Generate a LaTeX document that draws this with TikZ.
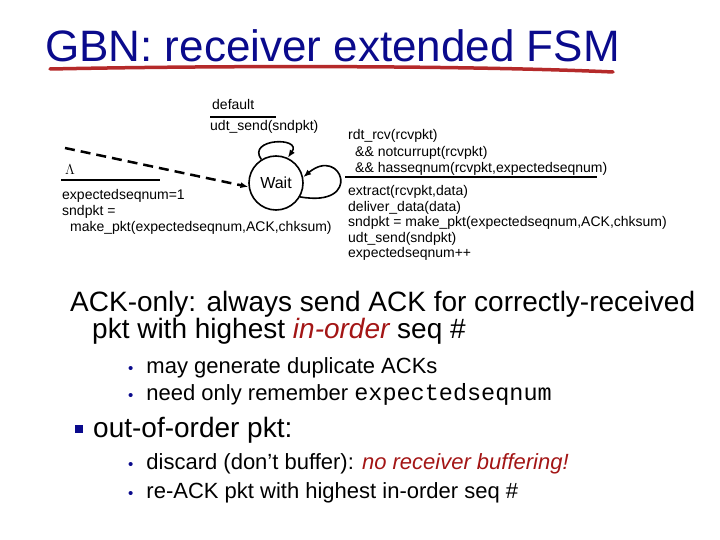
\documentclass[tikz,border=0pt]{standalone}
\usepackage{fontspec}
\setmainfont{Liberation Sans}
\setmonofont{Liberation Mono}
\usetikzlibrary{arrows.meta}
\definecolor{navyTitle}{HTML}{0A0A8C}
\definecolor{redStroke}{HTML}{B52A2A}
\definecolor{redText}{HTML}{A31515}
\newcommand{\subDot}{{\color{navyTitle}\fontsize{15}{15}\selectfont\textbullet}\hspace{13pt}}
\newcommand{\sqDot}{{\color{navyTitle}\raisebox{4pt}{\rule{8pt}{8pt}}}\hspace{10pt}}
\tikzset{
  fsmtext/.style={font=\fontsize{14}{15.6}\selectfont,inner sep=0pt,align=left,anchor=base west},
  bigtext/.style={font=\fontsize{28}{27}\selectfont,inner sep=0pt,align=left,anchor=base west},
  subtext/.style={font=\fontsize{22}{22}\selectfont,inner sep=0pt,align=left,anchor=base west},
  fsmline/.style={line width=1.6pt}
}

\begin{document}
\begin{tikzpicture}[x=1pt,y=-1pt,>={Latex[length=8pt,width=6pt]}]
    \useasboundingbox (0,0) rectangle (720,540);
    % title
    \node[anchor=base west,inner sep=0pt,text=navyTitle,font=\fontsize{44}{44}\selectfont] (title) at (45,62) {GBN: receiver extended FSM};
    \draw[redStroke,line width=3.5pt,line cap=round] (50,69) .. controls (250,65) and (480,66) .. (613,72);
    % receiver FSM (y points down, so polar angles are mirrored)
    \node[draw,circle,fsmline,minimum size=54pt,inner sep=0pt,font=\fontsize{16}{16}\selectfont] (wait) at (276,183) {Wait};
    \coordinate (init) at (65,148);
    \draw[->,line width=2.5pt,dash pattern=on 10pt off 6pt] (init) -- (wait.188);
    \draw[->,fsmline] (wait.122) .. controls +(-125:26) and +(-55:26) .. (wait.65);
    \draw[->,fsmline] (wait.-30) .. controls +(10:65) and +(-40:50) .. (wait.12);
    \node[fsmtext] (dflt) at (212,110) {default};
    \draw[line width=2pt] (210,117) -- (276,117);
    \node[fsmtext] (dfltact) at (210,131) {udt\_send(sndpkt)};
    \node[fsmtext] (lam) at (65,175) {$\Lambda$};
    \draw[line width=2pt] (61,180) -- (160,180);
    \node[fsmtext] (initact) at (62,231) {expectedseqnum=1\\sndpkt =\\\hspace*{8pt}make\_pkt(expectedseqnum,ACK,chksum)};
    \node[fsmtext,font=\fontsize{14}{16.5}\selectfont] (rcvcond) at (348,173) {rdt\_rcv(rcvpkt)\\\hspace*{7pt}\&\& notcurrupt(rcvpkt)\\\hspace*{7pt}\&\& hasseqnum(rcvpkt,expectedseqnum)};
    \draw[line width=2pt] (345,177) -- (597,177);
    \node[fsmtext] (rcvact) at (348,258) {extract(rcvpkt,data)\\deliver\_data(data)\\sndpkt = make\_pkt(expectedseqnum,ACK,chksum)\\udt\_send(sndpkt)\\expectedseqnum++};
    % notes
    \node[bigtext] (ackonly) at (70,338) {ACK-only: always send ACK for correctly-received\\\hspace*{22pt}pkt with highest {\color{redText}\itshape in-order} seq \#};
    \node[subtext] (dup) at (128,373) {\subDot may generate duplicate ACKs};
    \node[subtext] (remember) at (128,400) {\subDot need only remember {\fontsize{23.5}{23.5}\selectfont\ttfamily expectedseqnum}};
    \node[bigtext] (ooo) at (75,437) {\sqDot out-of-order pkt:};
    \node[subtext] (discard) at (128,469) {\subDot discard (don’t buffer): {\color{redText}\itshape no receiver buffering!}};
    \node[subtext] (reack) at (128,498) {\subDot re-ACK pkt with highest in-order seq \#};
  \end{tikzpicture}
\end{document}
